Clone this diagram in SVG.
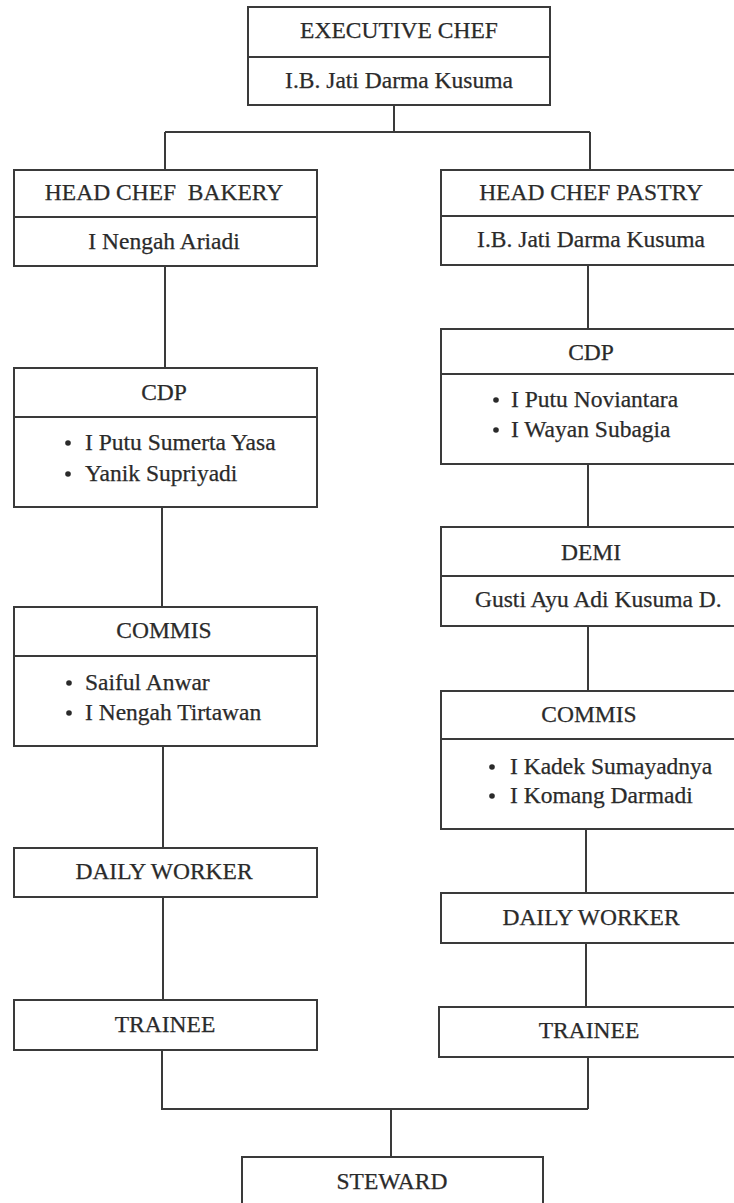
<svg xmlns="http://www.w3.org/2000/svg" width="734" height="1203" viewBox="0 0 734 1203">
<style>
.box{fill:#fff;stroke:#3a3a3a;stroke-width:2}
.div{stroke:#3a3a3a;stroke-width:2}
.t{font-family:"Liberation Serif","Times New Roman",serif;font-size:23.5px;fill:#2a2a2a;stroke:#2a2a2a;stroke-width:0.25}
.c{text-anchor:middle}
.b{fill:#2a2a2a}
.con{fill:none;stroke:#3a3a3a;stroke-width:2}
</style>
<rect width="734" height="1203" fill="#fff"/>
<g id="connectors">
<path class="con" d="M394,105 V132 M165,132 H590 M165,132 V170 M590,132 V170"/>
<path class="con" d="M165,266 V368 M162,507 V607 M163,746 V848 M163,897 V1000 M162,1050 V1109 H588 M588,1057 V1109 M391,1109 V1157"/>
<path class="con" d="M588,265 V329 M588,464 V527 M588,626 V691 M586,829 V893 M586,943 V1007"/>
</g>
<g id="exec">
<rect class="box" x="248" y="7" width="302" height="98"/>
<line class="div" x1="248" y1="57" x2="550" y2="57"/>
<text class="t c" x="399" y="38">EXECUTIVE CHEF</text>
<text class="t c" x="399" y="88">I.B. Jati Darma Kusuma</text>
</g>
<g id="head-bakery">
<rect class="box" x="14" y="170" width="303" height="96"/>
<line class="div" x1="14" y1="217" x2="317" y2="217"/>
<text class="t c" x="164" y="200" xml:space="preserve">HEAD CHEF  BAKERY</text>
<text class="t c" x="164" y="249">I Nengah Ariadi</text>
</g>
<g id="cdp-left">
<rect class="box" x="14" y="368" width="303" height="139"/>
<line class="div" x1="14" y1="417" x2="317" y2="417"/>
<text class="t c" x="164" y="400">CDP</text>
<circle class="b" cx="68" cy="443" r="2.8"/>
<text class="t" x="85" y="450">I Putu Sumerta Yasa</text>
<circle class="b" cx="68" cy="474" r="2.8"/>
<text class="t" x="85" y="481">Yanik Supriyadi</text>
</g>
<g id="commis-left">
<rect class="box" x="14" y="607" width="303" height="139"/>
<line class="div" x1="14" y1="656" x2="317" y2="656"/>
<text class="t c" x="164" y="638">COMMIS</text>
<circle class="b" cx="69" cy="683" r="2.8"/>
<text class="t" x="85" y="690">Saiful Anwar</text>
<circle class="b" cx="69" cy="713" r="2.8"/>
<text class="t" x="85" y="720">I Nengah Tirtawan</text>
</g>
<g id="daily-left">
<rect class="box" x="14" y="848" width="303" height="49"/>
<text class="t c" x="164" y="879">DAILY WORKER</text>
</g>
<g id="trainee-left">
<rect class="box" x="14" y="1000" width="303" height="50"/>
<text class="t c" x="165" y="1032">TRAINEE</text>
</g>
<g id="head-pastry">
<rect class="box" x="441" y="170" width="310" height="95"/>
<line class="div" x1="441" y1="216" x2="751" y2="216"/>
<text class="t c" x="591" y="200">HEAD CHEF PASTRY</text>
<text class="t c" x="591" y="247">I.B. Jati Darma Kusuma</text>
</g>
<g id="cdp-right">
<rect class="box" x="441" y="329" width="310" height="135"/>
<line class="div" x1="441" y1="374" x2="751" y2="374"/>
<text class="t c" x="591" y="360">CDP</text>
<circle class="b" cx="496" cy="400" r="2.8"/>
<text class="t" x="511" y="407">I Putu Noviantara</text>
<circle class="b" cx="496" cy="430" r="2.8"/>
<text class="t" x="511" y="437">I Wayan Subagia</text>
</g>
<g id="demi-right">
<rect class="box" x="441" y="527" width="310" height="99"/>
<line class="div" x1="441" y1="576" x2="751" y2="576"/>
<text class="t c" x="591" y="560">DEMI</text>
<text class="t" x="475" y="607">Gusti Ayu Adi Kusuma D.</text>
</g>
<g id="commis-right">
<rect class="box" x="441" y="691" width="310" height="138"/>
<line class="div" x1="441" y1="739" x2="751" y2="739"/>
<text class="t c" x="589" y="722">COMMIS</text>
<circle class="b" cx="492" cy="767" r="2.8"/>
<text class="t" x="510" y="774">I Kadek Sumayadnya</text>
<circle class="b" cx="492" cy="796" r="2.8"/>
<text class="t" x="510" y="803">I Komang Darmadi</text>
</g>
<g id="daily-right">
<rect class="box" x="441" y="893" width="310" height="50"/>
<text class="t c" x="591" y="925">DAILY WORKER</text>
</g>
<g id="trainee-right">
<rect class="box" x="439" y="1007" width="312" height="50"/>
<text class="t c" x="589" y="1038">TRAINEE</text>
</g>
<g id="steward">
<rect class="box" x="242" y="1157" width="301" height="60"/>
<text class="t c" x="392" y="1189">STEWARD</text>
</g>
</svg>
